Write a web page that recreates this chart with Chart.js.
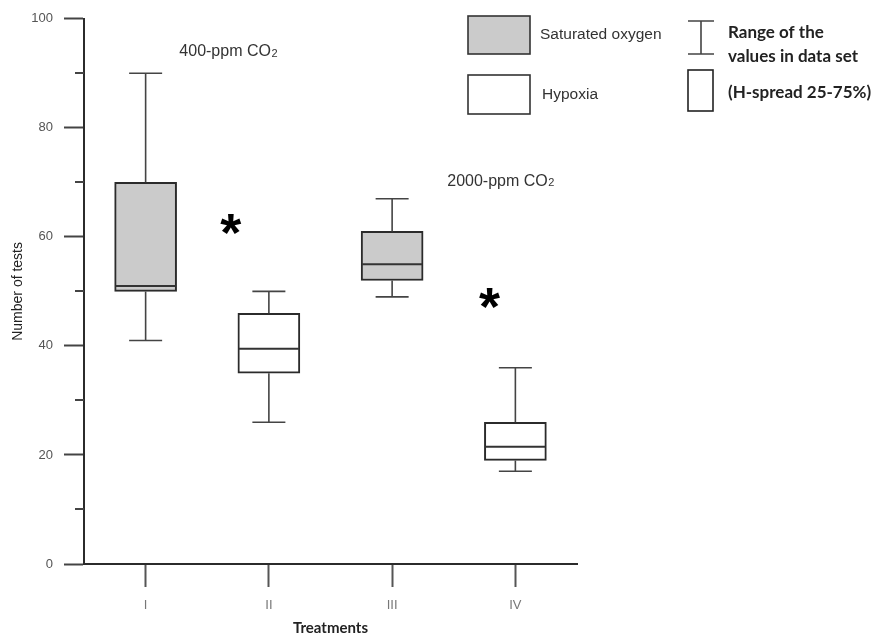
<!DOCTYPE html>
<html>
<head>
<meta charset="utf-8">
<title>Number of tests by treatment</title>
<script src="https://cdn.jsdelivr.net/npm/chart.js@4.4.1/dist/chart.umd.min.js"></script>
<style>
  html, body { margin: 0; padding: 0; background: #fff; }
  #wrap { width: 875px; height: 636px; }
</style>
</head>
<body>
<div id="wrap"><canvas id="boxChart" width="875" height="636"></canvas></div>
<script>
// Treatments and oxygen condition of each box
const treatments = ['I', 'II', 'III', 'IV'];
const oxygen = ['Saturated oxygen', 'Hypoxia', 'Saturated oxygen', 'Hypoxia'];

// Box statistics (number of tests)
const rangeMin  = [41, 26, 49, 17];
const quartile1 = [50, 35, 52, 19];
const median    = [51, 39.5, 55, 21.5];
const quartile3 = [70, 46, 61, 26];
const rangeMax  = [90, 50, 67, 36];

// Minor tick values on the y axis
const yMinorTicks = [10, 30, 50, 70, 90];

// Significance marks: position along the treatment axis and value
const starX = [0.69, 2.79];
const starY = [62.2, 48.7];

// CO2 group captions
const groupLabels = ['400-ppm CO', '2000-ppm CO'];
const groupX = [0.67, 2.88];
const groupY = [93.9, 70.2];

const fills = {
    'Saturated oxygen': '#cbcbcb',
    'Hypoxia': '#ffffff'
};

// Whiskers, caps and median lines on top of the floating bars
const boxWhiskers = {
    id: 'boxWhiskers',
    afterDatasetsDraw(chart) {
        const ctx = chart.ctx;
        const y = chart.scales.y;
        const meta = chart.getDatasetMeta(0);
        const cap = 16.5;
        ctx.save();
        meta.data.forEach((bar, i) => {
            const cx = bar.x;
            const half = bar.width / 2;
            const yTop = y.getPixelForValue(rangeMax[i]);
            const yBot = y.getPixelForValue(rangeMin[i]);
            ctx.strokeStyle = '#444';
            ctx.lineWidth = 1.6;
            ctx.beginPath();
            ctx.moveTo(cx, y.getPixelForValue(quartile3[i]));
            ctx.lineTo(cx, yTop);
            ctx.moveTo(cx - cap, yTop);
            ctx.lineTo(cx + cap, yTop);
            ctx.moveTo(cx, y.getPixelForValue(quartile1[i]));
            ctx.lineTo(cx, yBot);
            ctx.moveTo(cx - cap, yBot);
            ctx.lineTo(cx + cap, yBot);
            ctx.stroke();

            const yMed = y.getPixelForValue(median[i]);
            ctx.strokeStyle = '#333';
            ctx.lineWidth = 2;
            ctx.beginPath();
            ctx.moveTo(cx - half + 1, yMed);
            ctx.lineTo(cx + half - 1, yMed);
            ctx.stroke();
        });
        ctx.restore();
    }
};

// Minor y ticks, asterisks, CO2 captions and the legend
const annotations = {
    id: 'annotations',
    afterDraw(chart) {
        const ctx = chart.ctx;
        const x = chart.scales.x;
        const y = chart.scales.y;
        const area = chart.chartArea;
        ctx.save();

        // minor ticks
        ctx.strokeStyle = '#444';
        ctx.lineWidth = 2;
        ctx.beginPath();
        yMinorTicks.forEach(v => {
            const py = Math.round(y.getPixelForValue(v));
            ctx.moveTo(area.left - 9, py);
            ctx.lineTo(area.left, py);
        });
        ctx.stroke();

        // asterisks
        ctx.fillStyle = '#000';
        ctx.font = 'bold 54px "Liberation Sans", Arial, sans-serif';
        ctx.textAlign = 'center';
        ctx.textBaseline = 'alphabetic';
        starX.forEach((sx, i) => {
            const m = ctx.measureText('*');
            const px = x.getPixelForValue(sx);
            const py = y.getPixelForValue(starY[i]);
            const mid = (m.actualBoundingBoxAscent - m.actualBoundingBoxDescent) / 2;
            ctx.fillText('*', px, py + mid);
        });

        // CO2 captions with subscript
        ctx.fillStyle = '#333';
        ctx.textBaseline = 'middle';
        ctx.textAlign = 'left';
        groupLabels.forEach((label, i) => {
            const main = '16px "Liberation Sans", Arial, sans-serif';
            const sub = '11px "Liberation Sans", Arial, sans-serif';
            ctx.font = main;
            const w1 = ctx.measureText(label).width;
            ctx.font = sub;
            const w2 = ctx.measureText('2').width;
            const cx = x.getPixelForValue(groupX[i]);
            const cy = y.getPixelForValue(groupY[i]);
            const left = cx - (w1 + w2) / 2;
            ctx.font = main;
            ctx.fillText(label, left, cy);
            ctx.font = sub;
            ctx.fillText('2', left + w1 + 0.5, cy + 2);
        });

        // legend: condition swatches
        ctx.strokeStyle = '#333';
        ctx.lineWidth = 1.6;
        ctx.fillStyle = fills['Saturated oxygen'];
        ctx.fillRect(468, 16, 62, 38);
        ctx.strokeRect(468, 16, 62, 38);
        ctx.fillStyle = fills['Hypoxia'];
        ctx.fillRect(468, 75, 62, 39);
        ctx.strokeRect(468, 75, 62, 39);

        ctx.fillStyle = '#333';
        ctx.font = '15.5px "Liberation Sans", Arial, sans-serif';
        ctx.textBaseline = 'middle';
        ctx.fillText('Saturated oxygen', 540, 35);
        ctx.fillText('Hypoxia', 542, 95);

        // legend: range and box symbols
        ctx.strokeStyle = '#444';
        ctx.beginPath();
        ctx.moveTo(701, 21); ctx.lineTo(701, 54);
        ctx.moveTo(688, 21); ctx.lineTo(714, 21);
        ctx.moveTo(688, 54); ctx.lineTo(714, 54);
        ctx.stroke();
        ctx.strokeStyle = '#222';
        ctx.strokeRect(688, 70, 25, 41);

        ctx.fillStyle = '#222';
        ctx.font = 'bold 17px Lato, "Open Sans", sans-serif';
        ctx.fillText('Range of the', 728, 33);
        ctx.fillText('values in data set', 728, 57);
        ctx.fillText('(H-spread 25-75%)', 728, 93);

        ctx.restore();
    }
};

const ctx = document.getElementById('boxChart').getContext('2d');

new Chart(ctx, {
    type: 'bar',
    data: {
        labels: treatments,
        datasets: [{
            label: 'Number of tests',
            data: treatments.map((t, i) => [quartile1[i], quartile3[i]]),
            backgroundColor: oxygen.map(o => fills[o]),
            borderColor: '#2b2b2b',
            borderWidth: 2,
            borderSkipped: false,
            barThickness: 62
        }]
    },
    options: {
        responsive: false,
        animation: false,
        layout: {
            padding: { top: 18, right: 298, bottom: 0, left: 0 }
        },
        plugins: {
            legend: { display: false },
            tooltip: { enabled: false }
        },
        scales: {
            x: {
                offset: true,
                grid: {
                    offset: false,
                    drawOnChartArea: false,
                    tickLength: 23,
                    tickColor: '#555',
                    tickWidth: 2
                },
                border: { color: '#2b2b2b', width: 2 },
                ticks: {
                    color: '#777',
                    padding: 11,
                    font: { family: '"Liberation Sans", Arial, sans-serif', size: 13 }
                },
                title: {
                    display: true,
                    text: 'Treatments',
                    color: '#222',
                    padding: { top: 0, bottom: 0 },
                    font: { family: 'Lato, "Open Sans", sans-serif', size: 15, weight: 'bold', lineHeight: 1.1 }
                },
                afterFit(scale) { scale.height = 72; }
            },
            y: {
                min: 0,
                max: 100,
                grid: {
                    drawOnChartArea: false,
                    tickLength: 20,
                    tickColor: '#444',
                    tickWidth: 2
                },
                border: { color: '#2b2b2b', width: 2 },
                ticks: {
                    stepSize: 20,
                    color: '#555',
                    padding: 11,
                    font: { family: '"Liberation Sans", Arial, sans-serif', size: 13 }
                },
                title: {
                    display: true,
                    text: 'Number of tests',
                    color: '#222',
                    padding: { top: 10, bottom: 0 },
                    font: { family: '"Liberation Sans", Arial, sans-serif', size: 14 }
                },
                afterFit(scale) { scale.width = 84; }
            }
        }
    },
    plugins: [boxWhiskers, annotations]
});
</script>
</body>
</html>
